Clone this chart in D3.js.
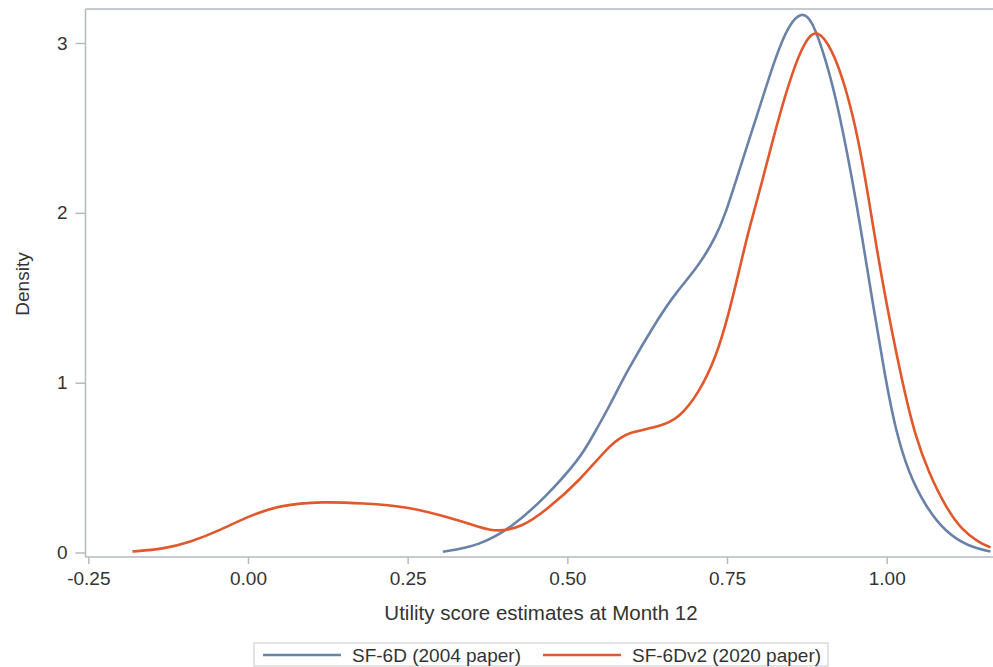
<!DOCTYPE html>
<html>
<head>
<meta charset="utf-8">
<script src="https://cdn.jsdelivr.net/npm/d3@7"></script>
<style>
  body { margin: 0; background: #fff; }
  svg { display: block; font-family: "Liberation Sans", Arial, sans-serif; }
  .tick text { fill: #333; }
</style>
</head>
<body>
<div id="chart"></div>
<script>
// density estimates
const sf6dX = [0.305, 0.3625, 0.414, 0.467, 0.519, 0.539, 0.570, 0.592, 0.644, 0.670, 0.706, 0.733, 0.748, 0.764, 0.800, 0.827, 0.847, 0.867, 0.883, 0.905, 0.925, 0.952, 0.972, 0.998, 1.014, 1.034, 1.061, 1.092, 1.128, 1.1625];
const sf6dY = [0.004, 0.04, 0.15, 0.33, 0.55, 0.68, 0.89, 1.06, 1.39, 1.53, 1.69, 1.86, 2.00, 2.19, 2.61, 2.93, 3.11, 3.185, 3.14, 2.90, 2.61, 2.08, 1.61, 1.02, 0.72, 0.47, 0.27, 0.12, 0.035, 0.006];

const sf6dv2X = [-0.181, -0.133, -0.091, -0.044, -0.002, 0.05, 0.117, 0.18, 0.25, 0.311, 0.3625, 0.389, 0.43, 0.467, 0.519, 0.570, 0.597, 0.644, 0.675, 0.706, 0.733, 0.753, 0.769, 0.784, 0.800, 0.827, 0.852, 0.873, 0.891, 0.914, 0.936, 0.956, 0.972, 0.992, 1.023, 1.045, 1.066, 1.092, 1.117, 1.144, 1.1625];
const sf6dv2Y = [0.006, 0.02, 0.06, 0.13, 0.21, 0.28, 0.30, 0.29, 0.27, 0.21, 0.15, 0.12, 0.15, 0.25, 0.42, 0.65, 0.71, 0.74, 0.79, 0.94, 1.15, 1.41, 1.66, 1.90, 2.11, 2.51, 2.83, 3.02, 3.085, 2.97, 2.74, 2.43, 2.08, 1.61, 1.02, 0.68, 0.47, 0.27, 0.135, 0.06, 0.03];

const xTicks = [-0.25, 0, 0.25, 0.5, 0.75, 1.0];
const yTicks = [0, 1, 2, 3];
const seriesNames = ["SF-6D (2004 paper)", "SF-6Dv2 (2020 paper)"];
const seriesColors = ["#6a82a8", "#e0582b"];

const width = 993, height = 667;
const plotLeft = 85.5, plotTop = 9, plotBottom = 557;

let svg = d3.select("#chart").append("svg")
  .attr("width", width)
  .attr("height", height);

let x = d3.scaleLinear().domain([-0.25, 1.0]).range([88.3, 886.7]);
let y = d3.scaleLinear().domain([0, 3]).range([552.5, 43]);

// clip curves to the plot area
svg.append("clipPath").attr("id", "plotClip")
  .append("rect")
  .attr("x", plotLeft).attr("y", plotTop)
  .attr("width", width - plotLeft).attr("height", plotBottom - plotTop);

// frame line on top
svg.append("line")
  .attr("x1", plotLeft).attr("x2", width)
  .attr("y1", plotTop).attr("y2", plotTop)
  .style("stroke", "#b4babd").style("stroke-width", 1.5);

// x axis (plain hyphen for the minus sign, like the original)
let fmt = d3.format(".2f");
let xAxis = svg.append("g")
  .attr("transform", "translate(0," + plotBottom + ")")
  .call(d3.axisBottom(x).tickValues(xTicks)
    .tickFormat(function(d) { return fmt(d).replace("\u2212", "-"); })
    .tickSize(7).tickSizeOuter(0));
xAxis.select(".domain").attr("d", "M" + plotLeft + ",0H" + width);
xAxis.selectAll("path, line").style("stroke", "#b4babd").style("stroke-width", 1.5);
xAxis.selectAll("text")
  .attr("y", 15)
  .style("font-size", "19px")
  .style("font-family", "Liberation Sans, Arial, sans-serif");

// y axis
let yAxis = svg.append("g")
  .attr("transform", "translate(" + plotLeft + ",0)")
  .call(d3.axisLeft(y).tickValues(yTicks).tickFormat(d3.format("d")).tickSize(10).tickSizeOuter(0));
yAxis.select(".domain").attr("d", "M0," + plotTop + "V" + plotBottom);
yAxis.selectAll("path, line").style("stroke", "#b4babd").style("stroke-width", 1.5);
yAxis.selectAll("text")
  .attr("x", -18)
  .style("font-size", "19px")
  .style("font-family", "Liberation Sans, Arial, sans-serif");

// axis titles
svg.append("text")
  .attr("x", 541).attr("y", 620)
  .attr("text-anchor", "middle")
  .style("font-size", "20.5px")
  .style("fill", "#333")
  .text("Utility score estimates at Month 12");

svg.append("text")
  .attr("transform", "translate(29,284) rotate(-90)")
  .attr("text-anchor", "middle")
  .style("font-size", "19px")
  .style("fill", "#333")
  .text("Density");

// curves (b-spline smooths small reading errors)
let line = d3.line()
  .x(function(d) { return x(d[0]); })
  .y(function(d) { return y(d[1]); })
  .curve(d3.curveBasis);

let series = [
  d3.zip(sf6dX, sf6dY),
  d3.zip(sf6dv2X, sf6dv2Y)
];

svg.append("g").attr("clip-path", "url(#plotClip)")
  .selectAll("path")
  .data(series)
  .enter().append("path")
  .attr("d", line)
  .style("fill", "none")
  .style("stroke", function(d, i) { return seriesColors[i]; })
  .style("stroke-width", 2.6)
  .style("stroke-linejoin", "round");

// legend
let legend = svg.append("g");
legend.append("rect")
  .attr("x", 254).attr("y", 643)
  .attr("width", 574).attr("height", 23)
  .style("fill", "#fff")
  .style("stroke", "#c8c8c8")
  .style("stroke-width", 1);

let legendX = [263, 543];
seriesNames.forEach(function(name, i) {
  legend.append("line")
    .attr("x1", legendX[i]).attr("x2", legendX[i] + 78)
    .attr("y1", 655).attr("y2", 655)
    .style("stroke", seriesColors[i])
    .style("stroke-width", 2.6);
  legend.append("text")
    .attr("x", legendX[i] + 89).attr("y", 662)
    .style("font-size", "19px")
    .style("fill", "#333")
    .text(name);
});
</script>
</body>
</html>
